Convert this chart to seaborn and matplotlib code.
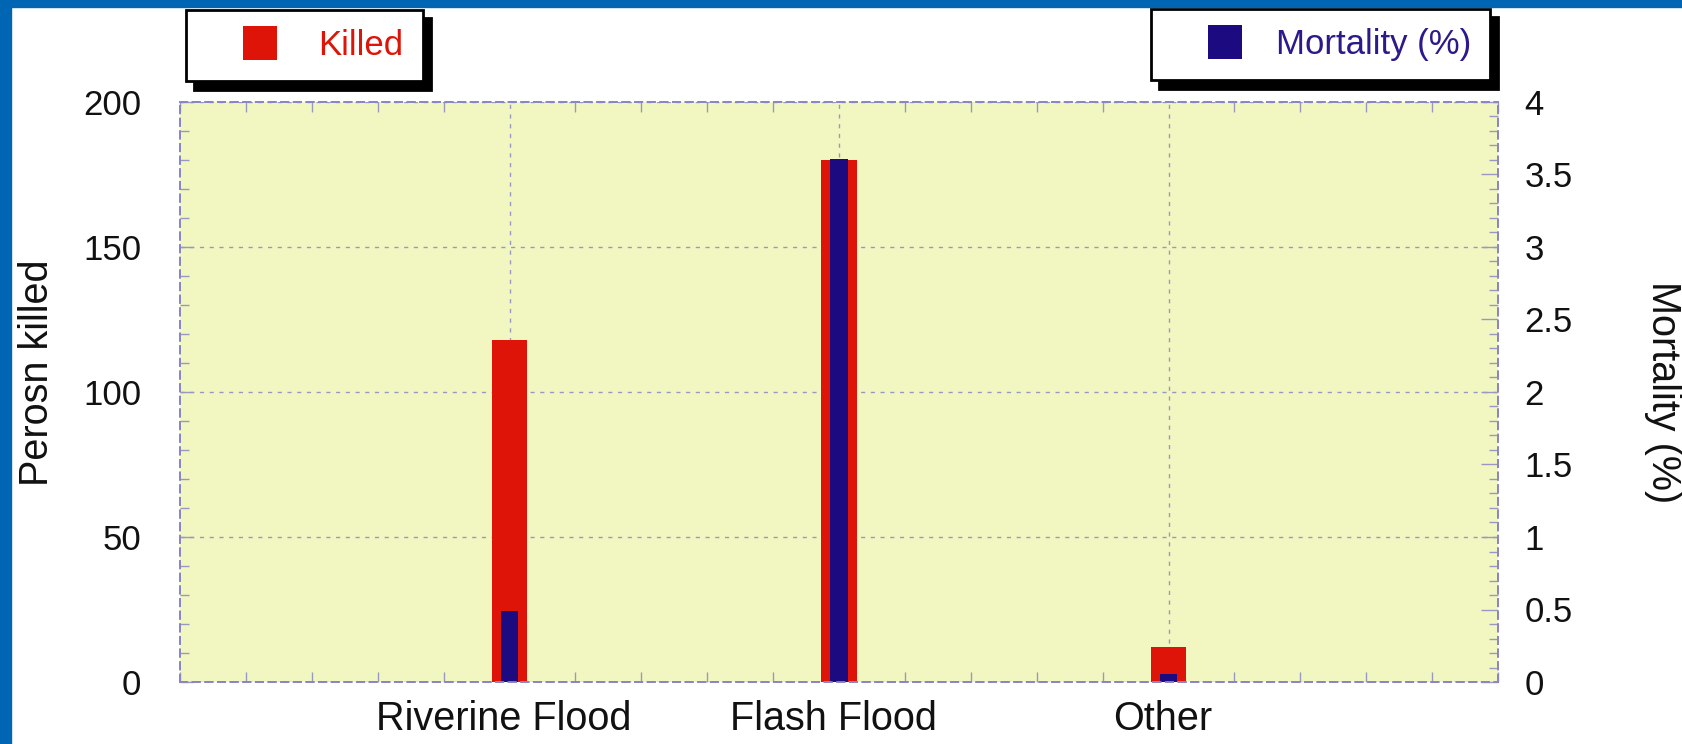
import numpy as np
import pandas as pd
import matplotlib.pyplot as plt
import matplotlib.ticker as mticker
import matplotlib.transforms as mtransforms
from matplotlib.patches import Rectangle
from matplotlib.lines import Line2D
import seaborn as sb

categories = ['Riverine Flood', 'Flash Flood', 'Other']
killed = [118, 180, 12]
mortality = [0.49, 3.61, 0.053]

red = '#de1408'
navy = '#1c0a80'
frame = '#8a86c4'
tickc = '#9a98c0'

sb.set_style('ticks')
plt.rcParams['font.family'] = ['Liberation Sans', 'DejaVu Sans']
plt.rcParams['font.size'] = 25

df = pd.DataFrame({'type': categories, 'killed': killed, 'mortality': mortality})

fig = plt.figure(figsize=(16.82, 7.44), dpi=100)
fig.patch.set_facecolor('white')
ax = fig.add_axes([180 / 1682, 1 - 682 / 744, 1318 / 1682, 580 / 744])
ax.set_facecolor('#f2f7c1')
ax2 = ax.twinx()

sb.barplot(data=df, x='type', y='killed', color=red, saturation=1, width=0.108,
           linewidth=0, ax=ax)
sb.barplot(data=df, x='type', y='mortality', color=navy, saturation=1, width=0.053,
           linewidth=0, ax=ax2)

ax.set_xlim(-1, 3)
ax.set_ylim(0, 200)
ax2.set_ylim(0, 4)

# axes look
ax.set_axisbelow(True)
ax.grid(True, color=tickc, linestyle=(0, (3, 4)), linewidth=1)
ax2.grid(False)
ax2.patch.set_visible(False)
for a in (ax, ax2):
    for s in a.spines.values():
        s.set_visible(True)
        s.set_color(frame)
        s.set_linestyle((0, (4, 3)))
        s.set_linewidth(1.3)

ax.yaxis.set_major_locator(mticker.MultipleLocator(50))
ax.yaxis.set_minor_locator(mticker.MultipleLocator(10))
ax.xaxis.set_minor_locator(mticker.MultipleLocator(0.2))
ax2.yaxis.set_major_locator(mticker.MultipleLocator(0.5))
ax2.yaxis.set_minor_locator(mticker.MultipleLocator(0.1))
ax2.yaxis.set_major_formatter(mticker.FuncFormatter(lambda v, p: f'{v:g}'))

ax.tick_params(axis='x', which='major', length=0, pad=12.7, labelsize=28.5, colors='#111111')
ax.tick_params(axis='x', which='minor', direction='in', length=7, width=1,
               color=tickc, top=True, bottom=True)
ax.tick_params(axis='y', which='major', direction='in', length=9, width=1,
               color=tickc, pad=28, labelsize=25, labelcolor='#111111')
ax.tick_params(axis='y', which='minor', direction='in', length=6.5, width=1,
               color=tickc, left=True, right=False)
ax2.tick_params(axis='y', which='major', direction='in', length=12, width=1,
                color=tickc, pad=19, labelsize=25, labelcolor='#111111')
ax2.tick_params(axis='y', which='minor', direction='in', length=6.5, width=1,
                color=tickc)

# category labels sit a little left of the bars
shift = mtransforms.ScaledTranslation(-5.5 / 100, 0, fig.dpi_scale_trans)
for lbl in ax.get_xticklabels():
    lbl.set_transform(lbl.get_transform() + shift)

ax.set_xlabel('')
ax.set_ylabel('Perosn killed', fontsize=28.5, color='#111111')
ax.yaxis.set_label_coords(-0.094, 0.533)
ax2.set_ylabel('Mortality (%)', fontsize=28.5, color='#111111', rotation=270, va='center')
ax2.yaxis.set_label_coords(1.1255, 0.5)

# legends with hard shadow
shadow = {'color': 'black', 'alpha': 1, 'ox': 6, 'oy': -6}
h1 = Line2D([], [], linestyle='none', marker='s', markersize=24,
            markerfacecolor=red, markeredgewidth=0)
leg1 = fig.legend([h1], ['Killed'], loc='upper left',
                  bbox_to_anchor=(186 / 1682, 1 - 10 / 744), bbox_transform=fig.transFigure,
                  borderaxespad=0, borderpad=0.55, handlelength=3.17, handletextpad=0.09,
                  fancybox=False, edgecolor='black', framealpha=1, shadow=shadow,
                  labelcolor=red, fontsize=25)
leg1.get_frame().set_linewidth(2)
h2 = Line2D([], [], linestyle='none', marker='s', markersize=24,
            markerfacecolor=navy, markeredgewidth=0)
leg2 = fig.legend([h2], ['Mortality (%)'], loc='upper right',
                  bbox_to_anchor=(1490 / 1682, 1 - 9 / 744), bbox_transform=fig.transFigure,
                  borderaxespad=0, borderpad=0.55, handlelength=3.14, handletextpad=-0.1,
                  fancybox=False, edgecolor='black', framealpha=1, shadow=shadow,
                  labelcolor='#2a1a8c', fontsize=25)
leg2.get_frame().set_linewidth(2)

# blue slide frame
fig.patches.append(Rectangle((0, 1 - 7 / 744), 1, 7 / 744, transform=fig.transFigure,
                             color='#0066b3', zorder=10))
fig.patches.append(Rectangle((0, 0), 11 / 1682, 1, transform=fig.transFigure,
                             color='#0066b3', zorder=10))

plt.savefig('out.png', dpi=100)
